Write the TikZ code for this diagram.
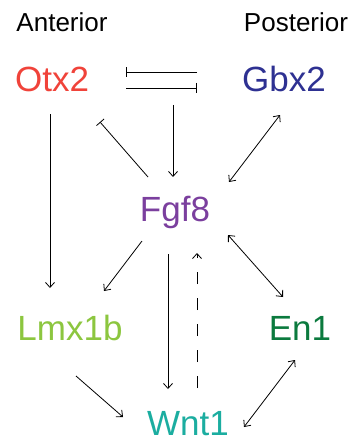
\documentclass[tikz,border=0pt]{standalone}
\usepackage{fontspec}
\setmainfont{Liberation Sans}
\usetikzlibrary{positioning,arrows.meta}
\definecolor{OtxRed}{HTML}{F0433A}
\definecolor{GbxBlue}{HTML}{2E3192}
\definecolor{FgfPurple}{HTML}{7B3F9E}
\definecolor{LmxGreen}{HTML}{8CC63F}
\definecolor{EnGreen}{HTML}{0B7A3E}
\definecolor{WntTeal}{HTML}{1BADA0}

\begin{document}
\begin{tikzpicture}[x=1pt,y=-1pt,>={Straight Barb[length=5pt,width=9pt]}]
\tikzstyle{gene}=[inner sep=0pt,anchor=base,font=\fontsize{35}{40}\selectfont]
\tikzstyle{side}=[inner sep=0pt,anchor=base,font=\fontsize{26}{30}\selectfont]
\tikzstyle{link}=[line width=.8pt]
\tikzstyle{inhib}=[line width=.8pt,-{Bar[width=10pt]}]
\useasboundingbox (0,0) rectangle (354,441);
\node[side] (ant) at (62,32) {Anterior};
\node[side] (post) at (296,32) {Posterior};
\node[gene,text=OtxRed] (otx) at (52,92) {Otx2};
\node[gene,text=GbxBlue] (gbx) at (284,92) {Gbx2};
\node[gene,text=FgfPurple] (fgf) at (175,221) {Fgf8};
\node[gene,text=LmxGreen] (lmx) at (70,340) {Lmx1b};
\node[gene,text=EnGreen] (en) at (300,340) {En1};
\node[gene,text=WntTeal] (wnt) at (188,435) {Wnt1};
\coordinate (mhb) at (173,105);
% mutual repression
\draw[inhib] ([shift={(-87,-20)}]gbx.base) -- ([shift={(74,-20)}]otx.base);
\draw[inhib] ([shift={(74,-4)}]otx.base) -- ([shift={(-87,-4)}]gbx.base);
\draw[inhib] ([shift={(-27,-44)}]fgf.base) -- ([shift={(48,30)}]otx.base);
% activation
\draw[link,->] ([shift={(-2,22)}]otx.base) -- ([shift={(-20,-52)}]lmx.base);
\draw[link,->] (mhb) -- ([shift={(-2,-44)}]fgf.base);
\draw[link,<->] ([shift={(-4,23)}]gbx.base) -- ([shift={(54,-39)}]fgf.base);
\draw[link,->] ([shift={(-33,20)}]fgf.base) -- ([shift={(34,-49)}]lmx.base);
\draw[link,->] ([shift={(-7,33)}]fgf.base) -- ([shift={(-20,-46)}]wnt.base);
\draw[link,->,dash pattern=on 12pt off 14pt] ([shift={(9,-47)}]wnt.base) -- ([shift={(22,32)}]fgf.base);
\draw[link,<->] ([shift={(53,14)}]fgf.base) -- ([shift={(-17,-43)}]en.base);
\draw[link,->] ([shift={(6,36)}]lmx.base) -- ([shift={(-65,-18)}]wnt.base);
\draw[link,<->] ([shift={(-5,20)}]en.base) -- ([shift={(56,-8)}]wnt.base);
\end{tikzpicture}
\end{document}
